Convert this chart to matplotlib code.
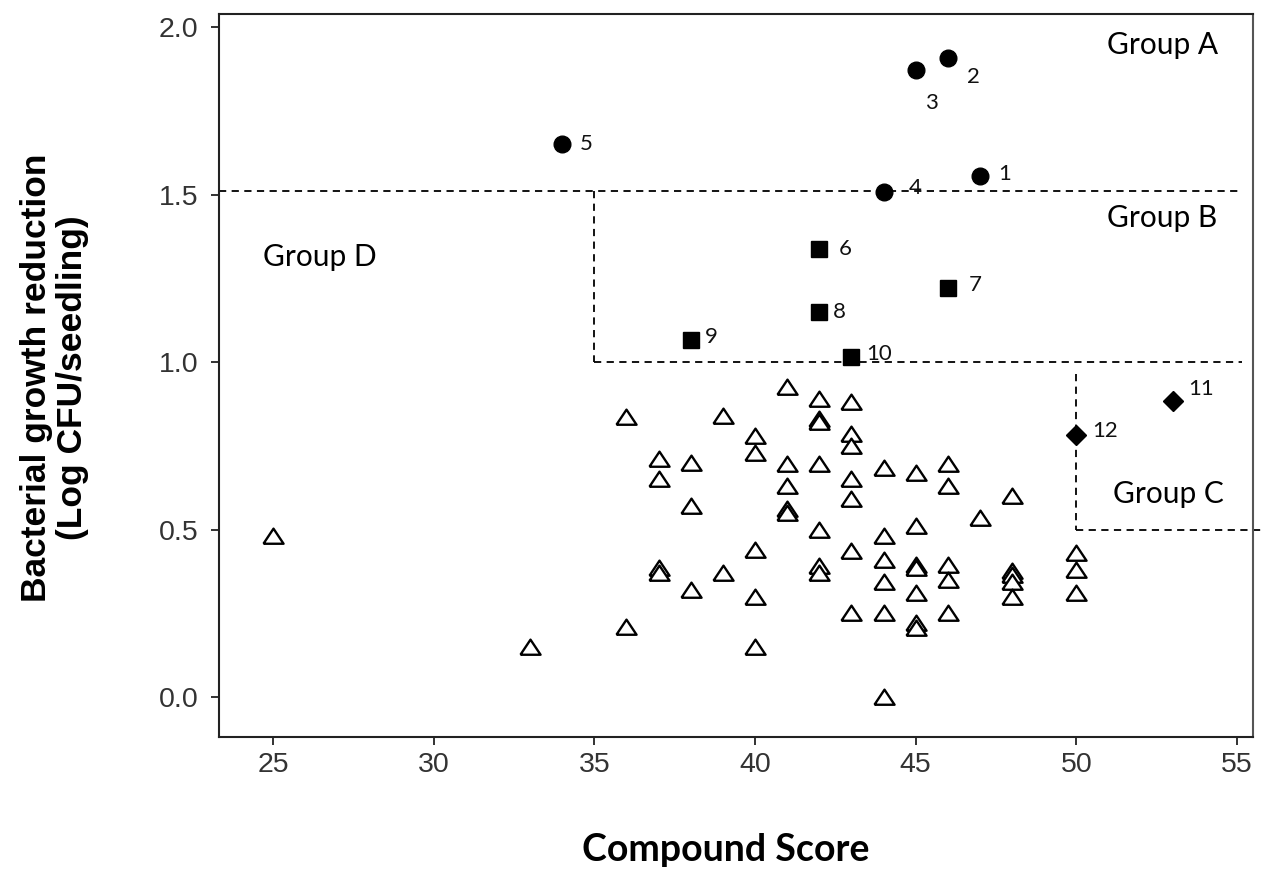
import matplotlib
matplotlib.use("Agg")
import matplotlib.pyplot as plt
import numpy as np

# ---- data ----
# Group A (circles)
a_ids = ["1", "2", "3", "4", "5"]
a_x = [47, 46, 45, 44, 34]
a_y = [1.556, 1.908, 1.872, 1.508, 1.651]
# Group B (squares)
b_ids = ["6", "7", "8", "9", "10"]
b_x = [42, 46, 42, 38, 43]
b_y = [1.338, 1.222, 1.148, 1.067, 1.016]
# Group C (diamonds)
c_ids = ["11", "12"]
c_x = [53, 50]
c_y = [0.885, 0.781]
# Group D (open triangles)
d_x = [25, 33, 36, 36,
       37, 37, 37, 37,
       38, 38, 38,
       39, 39,
       40, 40, 40, 40, 40,
       41, 41, 41, 41, 41,
       42, 42, 42, 42, 42, 42, 42,
       43, 43, 43, 43, 43, 43, 43,
       44, 44, 44, 44, 44, 44,
       45, 45, 45, 45, 45, 45, 45,
       46, 46, 46, 46, 46,
       47,
       48, 48, 48, 48, 48,
       50, 50, 50]
d_y = [0.48, 0.15, 0.835, 0.21,
       0.71, 0.65, 0.385, 0.37,
       0.70, 0.57, 0.32,
       0.84, 0.37,
       0.78, 0.73, 0.44, 0.30, 0.15,
       0.925, 0.695, 0.63, 0.56, 0.55,
       0.89, 0.83, 0.82, 0.695, 0.50, 0.39, 0.37,
       0.88, 0.785, 0.75, 0.65, 0.59, 0.435, 0.25,
       0.685, 0.48, 0.41, 0.345, 0.25, 0.0,
       0.67, 0.51, 0.395, 0.385, 0.31, 0.22, 0.205,
       0.695, 0.63, 0.395, 0.35, 0.25,
       0.535,
       0.60, 0.375, 0.365, 0.345, 0.30,
       0.43, 0.38, 0.31]

# group thresholds
y_a = 1.51
x_b = 35
y_b = 1.0
x_c = 50
y_c_top = 0.965
y_c = 0.5

group_names = ["Group A", "Group B", "Group C", "Group D"]
xticks = [25, 30, 35, 40, 45, 50, 55]
yticks = [0.0, 0.5, 1.0, 1.5, 2.0]

# ---- figure ----
fig = plt.figure(figsize=(12.67, 8.73), dpi=100)
ax = fig.add_axes([0.1729, 0.1558, 0.989 - 0.1729, 0.984 - 0.1558])
ax.set_xlim(23.32, 55.50)
ax.set_ylim(-0.119, 2.039)

label_font = "Lato"

# dashed group boundaries
dash = (0, (4, 3))
ax.plot([23.32, 55.16], [y_a, y_a], color="black", lw=1.3, ls=dash)
ax.plot([x_b, x_b], [y_a, y_b], color="black", lw=1.3, ls=dash)
ax.plot([x_b, 55.16], [y_b, y_b], color="black", lw=1.3, ls=dash)
ax.plot([x_c, x_c], [y_c_top, y_c], color="black", lw=1.3, ls=dash)
ax.plot([x_c, 55.78], [y_c, y_c], color="black", lw=1.3, ls=dash, clip_on=False)

# triangles
tri = [(-1.0, -0.72), (1.0, -0.72), (0.0, 0.78), (-1.0, -0.72)]
ax.plot(d_x, d_y, ls="none", marker=tri, ms=14.5, mfc="white", mec="black", mew=1.7)

# group markers
ax.plot(a_x, a_y, ls="none", marker="o", ms=12, color="black")
ax.plot(b_x, b_y, ls="none", marker="s", ms=11.5, color="black")
ax.plot(c_x, c_y, ls="none", marker="D", ms=10, color="black")

# point labels (offsets in points)
a_off = [(13, 1), (14, -14), (7, -24), (18, 3), (13, 0)]
b_off = [(14, 0), (15, 2), (10, 0), (10, 2), (11, 2)]
c_off = [(11, 8.5), (11.5, 3)]
for ids, xs, ys, offs in [(a_ids, a_x, a_y, a_off), (b_ids, b_x, b_y, b_off), (c_ids, c_x, c_y, c_off)]:
    for t, x, y, o in zip(ids, xs, ys, offs):
        ax.annotate(t, (x, y), xytext=o, textcoords="offset points",
                    ha="left", va="center",
                    fontsize=16, family=label_font, color="#111111")

# group labels
group_pos = [(52.67, 1.946), (52.67, 1.43), (52.86, 0.606), (26.46, 1.313)]
for name, (gx, gy) in zip(group_names, group_pos):
    ax.text(gx, gy, name, ha="center", va="center", fontsize=21.5, family=label_font, color="black")

# axes styling
for s in ax.spines.values():
    s.set_linewidth(1.5)
    s.set_color("#222222")
ax.spines["right"].set_color("#555555")
ax.set_xticks(xticks)
ax.set_yticks(yticks)
ax.set_xticklabels([str(t) for t in xticks])
ax.set_yticklabels([f"{t:.1f}" for t in yticks])
ax.tick_params(direction="out", length=6, width=1.3, colors="#222222",
               labelsize=20.5, labelcolor="#333333")
ax.tick_params(axis="x", pad=5)
ax.tick_params(axis="y", pad=9)
for lab in ax.get_xticklabels() + ax.get_yticklabels():
    lab.set_family("Liberation Sans")

fig.text(0.573, 0.026, "Compound Score", ha="center", va="center",
         fontsize=27, fontweight="bold", family=label_font)
fig.text(0.043, 0.567, "Bacterial growth reduction\n(Log CFU/seedling)", ha="center", va="center",
         rotation=90, fontsize=25.5, fontweight="bold", family="Liberation Sans", linespacing=1.15)

fig.savefig("out.png", dpi=100)
